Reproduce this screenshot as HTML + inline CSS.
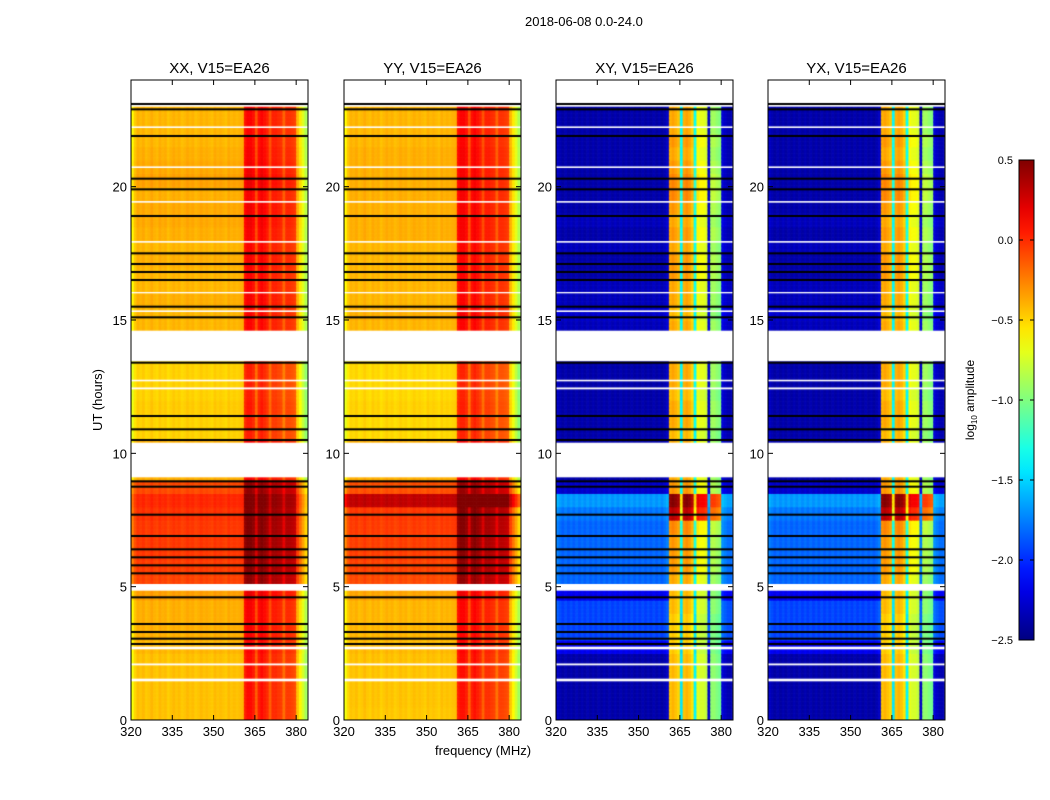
<!DOCTYPE html>
<html><head><meta charset="utf-8">
<style>
body{margin:0;background:#fff;font-family:"Liberation Sans",sans-serif;}
#wrap{position:relative;width:1050px;height:800px;overflow:hidden;}
.t{position:absolute;font-size:13px;color:#000;white-space:nowrap;}
canvas{position:absolute;}
</style></head>
<body>
<div id="wrap">
<div class="t" style="left:525px;top:14px;">2018-06-08 0.0-24.0</div>
<svg id="svg" width="1050" height="800" style="position:absolute;left:0;top:0;z-index:2"></svg>
</div>
<script>
// ---- data ----
const panelNames = ["XX, V15=EA26","YY, V15=EA26","XY, V15=EA26","YX, V15=EA26"];
// per-channel offsets (1 MHz channels 320..383)
const chanPar = [-0.2,-0.05,0.02,0,0.03,-0.02,0,0.04,0,-0.02,0.03,0,0.02,-0.03,0,0.03,0,0.02,-0.02,0,
 0.03,0,0.02,-0.02,0,0.03,0,0.02,0,-0.02,0.03,0,0.02,0,-0.02,0.03,0,0.02,0,0.02,0.03,
 0.5,0.55,0.55,0.5,0.3,0.5,0.55,0.5,0.45,0.3,0.45,0.45,0.42,0.4,0.25,0.4,0.4,0.38,0.35,0.0,-0.15,-0.3,-0.45];
const chanCross = [0.1,0.05,0,0.05,0,0.05,0,0.05,0,0.05,0,0.05,0,0.05,0,0.05,0,0.05,0,0.05,
 0,0.05,0,0.05,0,0.05,0,0.05,0,0.05,0,0.05,0,0.05,0,0.05,0,0.05,0,0.05,0.1,
 2.0,2.05,2.0,1.95,1.0,2.0,2.05,2.0,1.9,1.05,1.75,1.7,1.7,1.65,0.1,1.5,1.5,1.45,1.4,0.15,0.1,0.05,0.05];
// half-hour base levels 0..24h
const timeXX = [-0.45,-0.45,-0.45,-0.45,-0.45,-0.42,-0.4,-0.4,-0.4,-0.35,-0.08,-0.06,-0.05,-0.05,-0.05,-0.03,
 0.0,-0.1,-0.4,-0.4,-0.4,-0.5,-0.5,-0.48,-0.5,-0.5,-0.5,-0.4,-0.4,-0.42,-0.42,-0.4,-0.42,-0.42,
 -0.4,-0.42,-0.4,-0.38,-0.38,-0.4,-0.36,-0.38,-0.4,-0.42,-0.42,-0.42,-0.4,-0.4];
const timeYY = [-0.47,-0.46,-0.46,-0.46,-0.45,-0.43,-0.42,-0.42,-0.42,-0.37,-0.1,-0.08,-0.07,-0.07,-0.06,-0.05,
 0.3,-0.12,-0.4,-0.4,-0.4,-0.52,-0.52,-0.5,-0.52,-0.52,-0.52,-0.4,-0.4,-0.42,-0.4,-0.42,-0.42,-0.42,
 -0.42,-0.42,-0.4,-0.4,-0.4,-0.4,-0.4,-0.4,-0.4,-0.42,-0.42,-0.42,-0.4,-0.4];
const timeXY = [-2.4,-2.4,-2.4,-2.4,-2.4,-2.2,-1.95,-1.95,-1.95,-2.2,-1.85,-1.85,-1.85,-1.85,-1.85,-1.8,
 -1.7,-2.3,-2.4,-2.4,-2.4,-2.4,-2.4,-2.4,-2.4,-2.4,-2.4,-2.4,-2.4,-2.35,-2.3,-2.35,-2.35,-2.4,
 -2.4,-2.35,-2.4,-2.35,-2.4,-2.4,-2.4,-2.4,-2.4,-2.4,-2.4,-2.4,-2.4,-2.4];
const timeYX = timeXY;
// in-band cross-hand level per half hour
const bandXY = [-0.45,-0.45,-0.45,-0.45,-0.45,-0.5,-0.5,-0.5,-0.45,-0.45,-0.4,-0.35,-0.35,-0.35,-0.3,0.3,
 0.45,-0.35,-0.4,-0.4,-0.4,-0.45,-0.4,-0.4,-0.45,-0.4,-0.4,-0.4,-0.4,-0.4,-0.45,-0.4,-0.4,-0.35,
 -0.35,-0.4,-0.35,-0.4,-0.35,-0.3,-0.3,-0.35,-0.4,-0.35,-0.4,-0.4,-0.4,-0.4];
const whiteRanges = [[23.0,24],[13.45,14.6],[9.1,10.4],[2.65,2.75],[4.85,5.1],[1.45,1.55],[2.05,2.12],[12.4,12.47],[12.7,12.76],[15.3,15.36],[17.9,17.96],[19.4,19.46],[22.2,22.26],[16.0,16.05],[20.7,20.76]];
const blackLines = [2.85,3.05,3.3,3.6,4.6,5.5,5.8,6.1,6.4,6.9,7.7,8.75,8.95,10.5,10.9,11.4,13.4,15.1,15.5,16.5,16.8,17.1,17.5,18.9,19.9,20.3,21.9,22.9,23.1];
const cbTicks = [0.5,0.0,-0.5,-1.0,-1.5,-2.0,-2.5];
const xTicks = [320,335,350,365,380];
const yTicks = [0,5,10,15,20];
// ---- layout ----
const panelX = [131,344,556,768], pw = 177, topY = 80, botY = 720;
const vmin=-2.5, vmax=0.5;
const xS = f => (f-320)*(pw/64.3);
const yS = h => botY - h*(botY-topY)/24;
function jet(v){
  let t=(v-vmin)/(vmax-vmin); t=Math.max(0,Math.min(1,t));
  const c=x=>Math.round(255*Math.max(0,Math.min(1,x)));
  return [c(1.5-Math.abs(4*t-3)),c(1.5-Math.abs(4*t-2)),c(1.5-Math.abs(4*t-1))];
}
const NS="http://www.w3.org/2000/svg";
const svg=document.getElementById('svg');
const wrap=document.getElementById('wrap');
function el(tag,attrs,parent){const e=document.createElementNS(NS,tag);for(const k in attrs)e.setAttribute(k,attrs[k]);(parent||svg).appendChild(e);return e;}
const timeArrs=[timeXX,timeYY,timeXY,timeYX];
const chanArrs=[chanPar,chanPar,chanCross,chanCross];
panelX.forEach((px,p)=>{
  const g=el('g',{});
  
  
  const cv=document.createElement('canvas');cv.width=pw;cv.height=botY-topY;
  cv.style.left=px+'px';cv.style.top=topY+'px';
  
  
  wrap.appendChild(cv);
  const ctx=cv.getContext('2d');
  const tarr=timeArrs[p], carr=chanArrs[p];
  for(let r=0;r<480;r++){
    const h=r*0.05, ti=Math.min(47,Math.floor(h*2)), base=tarr[ti];
    for(let c=0;c<carr.length;c++){
      let v=base+carr[c];
      if(p>=2 && carr[c]>=0.9) v=bandXY[ti]+(carr[c]-2.0);
      const [R,G,B]=jet(v);
      ctx.fillStyle=`rgb(${R},${G},${B})`;
      const y0=yS(h+0.05)-topY, y1=yS(h)-topY;
      ctx.fillRect(xS(320+c),y0,xS(321+c)-xS(320+c)+0.6,y1-y0+0.6);
    }
  }
  ctx.fillStyle='#fff';
  whiteRanges.forEach(([a,b])=>{ctx.fillRect(0,yS(b)-topY,pw,yS(a)-yS(b));});
  ctx.fillStyle='#000';
  blackLines.forEach(h=>{ctx.fillRect(0,yS(h)-topY-1,pw,2);});
  el('rect',{x:px,y:topY,width:pw,height:botY-topY,fill:'none',stroke:'#000','stroke-width':1},g);
  const tt=el('text',{x:px+pw/2,y:73,'text-anchor':'middle','font-size':15,'font-family':'Liberation Sans'},g);
  tt.textContent=panelNames[p];
  
  
  xTicks.forEach(f=>{
    const x=px+xS(f);
    el('line',{x1:x,x2:x,y1:botY,y2:botY-5,stroke:'#000'},g);
    el('line',{x1:x,x2:x,y1:topY,y2:topY+5,stroke:'#000'},g);
    const t=el('text',{x:x,y:botY+16,'text-anchor':'middle','font-size':13,'font-family':'Liberation Sans'},g);
    t.textContent=f;
    
    
  });
  yTicks.forEach(v=>{
    const y=yS(v);
    el('line',{x1:px,x2:px+5,y1:y,y2:y,stroke:'#000'},g);
    el('line',{x1:px+pw,x2:px+pw-5,y1:y,y2:y,stroke:'#000'},g);
    const t=el('text',{x:px-4,y:y+5,'text-anchor':'end','font-size':13,'font-family':'Liberation Sans'},g);
    t.textContent=v;
    
    
  });
});
let t=el('text',{x:0,y:0,'text-anchor':'middle','font-size':13,'font-family':'Liberation Sans',transform:'translate(102,400) rotate(-90)'});
t.textContent='UT (hours)';


t=el('text',{x:483,y:755,'text-anchor':'middle','font-size':13,'font-family':'Liberation Sans'});
t.textContent='frequency (MHz)';


// colorbar
const defs=el('defs',{});
const lg=el('linearGradient',{id:'jetg',x1:0,y1:1,x2:0,y2:0},defs);
for(let i=0;i<=20;i++){const [R,G,B]=jet(vmin+(vmax-vmin)*i/20);el('stop',{offset:i/20,'stop-color':`rgb(${R},${G},${B})`},lg);}
const cbY=v=>640-(v-vmin)/(vmax-vmin)*480;
const cb=el('rect',{x:1019,y:160,width:15,height:480,fill:'url(#jetg)',stroke:'#000'});


cbTicks.forEach(v=>{
  const y=cbY(v);
  el('line',{x1:1019,x2:1023,y1:y,y2:y,stroke:'#000'});
  el('line',{x1:1030,x2:1034,y1:y,y2:y,stroke:'#000'});
  const tx=el('text',{x:1013,y:y+4,'text-anchor':'end','font-size':11,'font-family':'Liberation Sans'});
  tx.textContent=v.toFixed(1).replace('-','\u2212');
  
  
});
t=el('text',{x:0,y:0,'text-anchor':'middle','font-size':12,'font-family':'Liberation Sans',transform:'translate(974,400) rotate(-90)'});
t.innerHTML='log<tspan font-size="8" dy="3">10</tspan><tspan dy="-3"> amplitude</tspan>';


</script>
</body></html>
